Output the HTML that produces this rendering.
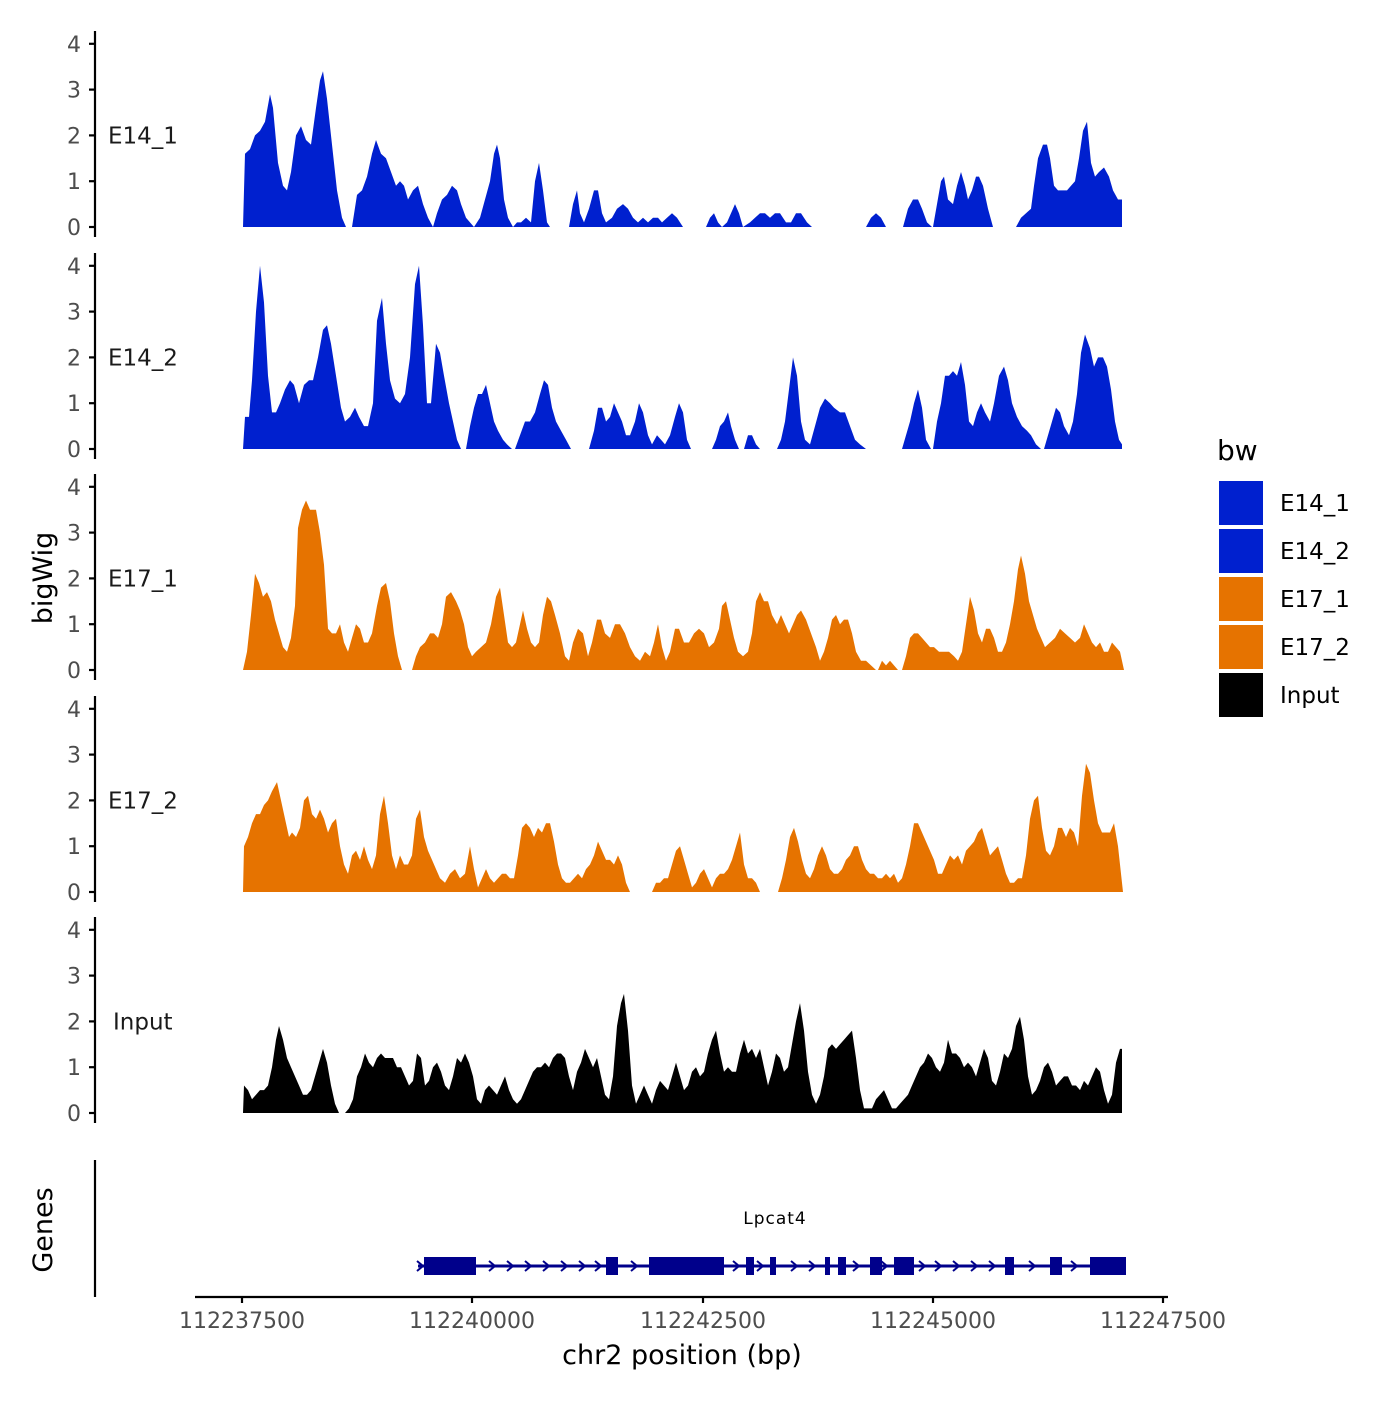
<!DOCTYPE html>
<html><head><meta charset="utf-8"><style>
html,body{margin:0;padding:0;background:#fff;}
svg text{font-family:"DejaVu Sans","Liberation Sans",sans-serif;}
</style></head><body>
<svg id="s" width="1400" height="1400" xmlns="http://www.w3.org/2000/svg">
<rect width="1400" height="1400" fill="#fff"/>
<g id="tracks"></g>
<g id="axes" stroke="#000" stroke-width="2.2" fill="none"></g>
<g id="lab" font-size="22" fill="#4d4d4d"></g>
<text x="52" y="578" font-size="27" text-anchor="middle" transform="rotate(-90 52 578)" fill="#000">bigWig</text>
<text x="52" y="1230" font-size="27" text-anchor="middle" transform="rotate(-90 52 1230)" fill="#000">Genes</text>
<text x="682" y="1364" font-size="27" text-anchor="middle" fill="#000">chr2 position (bp)</text>
<!-- legend -->
<text x="1217" y="460" font-size="28" fill="#000">bw</text>
<rect x="1219" y="481" width="44" height="44" fill="#0020cf"/>
<rect x="1219" y="529" width="44" height="44" fill="#0020cf"/>
<rect x="1219" y="577" width="44" height="44" fill="#e67300"/>
<rect x="1219" y="625" width="44" height="44" fill="#e67300"/>
<rect x="1219" y="673" width="44" height="44" fill="#000"/>
<g font-size="23" fill="#000">
<text x="1280" y="511">E14_1</text><text x="1280" y="559">E14_2</text>
<text x="1280" y="607">E17_1</text><text x="1280" y="655">E17_2</text>
<text x="1280" y="703">Input</text></g>
<!-- genes -->
<text x="775" y="1224" font-size="17" letter-spacing="1" text-anchor="middle" fill="#000">Lpcat4</text>
<line x1="418" y1="1266" x2="1126" y2="1266" stroke="#00008b" stroke-width="3"/>
<g id="gene" fill="#00008b"></g>
</svg>
<script>
var P=[
[227,"#0020cf",[243,0,245,1.6,250,1.7,255,2.0,260,2.1,265,2.3,270,2.9,273,2.6,278,1.4,283,0.9,287,0.8,291,1.2,296,2.0,301,2.2,306,1.9,311,1.8,316,2.6,320,3.2,323,3.4,327,2.8,332,1.8,337,0.8,342,0.2,346,0,352,0,357,0.7,362,0.8,367,1.1,372,1.6,376,1.9,381,1.6,386,1.5,391,1.2,396,0.9,400,1.0,404,0.9,408,0.6,413,0.8,418,0.9,423,0.5,428,0.2,433,0,437,0.3,442,0.6,447,0.7,452,0.9,457,0.8,461,0.5,466,0.2,470,0.1,474,0,480,0.2,485,0.6,490,1.0,494,1.6,497,1.8,500,1.5,504,0.6,508,0.2,513,0,517,0.1,521,0.1,526,0.2,531,0.1,535,1.0,539,1.4,543,0.8,547,0.1,550,0,569,0,573,0.5,577,0.8,580,0.3,584,0.1,589,0.4,594,0.8,598,0.8,602,0.3,606,0.1,612,0.2,617,0.4,623,0.5,628,0.4,633,0.2,638,0.1,643,0.2,648,0.1,653,0.2,658,0.2,662,0.1,667,0.2,672,0.3,677,0.2,683,0,706,0,710,0.2,714,0.3,718,0.1,722,0,727,0.1,731,0.3,735,0.5,739,0.3,743,0,750,0.1,755,0.2,760,0.3,765,0.3,770,0.2,775,0.3,780,0.3,786,0.1,791,0.1,796,0.3,801,0.3,807,0.1,812,0,866,0,871,0.2,876,0.3,881,0.2,886,0,903,0,908,0.4,913,0.6,918,0.6,922,0.4,927,0.1,932,0,933,0,937,0.5,941,1.0,944,1.1,948,0.6,953,0.5,957,0.9,961,1.2,965,0.9,968,0.6,972,0.8,976,1.1,979,1.1,983,0.9,988,0.4,993,0,1016,0,1021,0.2,1026,0.3,1031,0.4,1034,0.9,1038,1.5,1043,1.8,1047,1.8,1050,1.5,1054,0.9,1058,0.8,1062,0.8,1067,0.8,1071,0.9,1075,1.0,1079,1.5,1083,2.1,1087,2.3,1091,1.4,1095,1.1,1099,1.2,1104,1.3,1109,1.1,1113,0.8,1118,0.6,1122,0.6,1122,0],"E14_1",108],
[449,"#0020cf",[243,0,245,0.7,249,0.7,252,1.5,256,3.0,260,4.0,264,3.2,268,1.6,272,0.8,276,0.8,280,1.0,285,1.3,290,1.5,294,1.4,299,1.0,304,1.4,309,1.5,313,1.5,318,2.0,323,2.6,327,2.7,331,2.3,336,1.6,341,0.9,345,0.6,350,0.7,355,0.9,359,0.7,364,0.5,368,0.5,373,1.0,377,2.8,382,3.3,386,2.3,390,1.5,395,1.1,400,1.0,405,1.2,410,2.0,415,3.6,419,4.0,423,2.7,427,1.0,431,1.0,436,2.3,440,2.1,444,1.6,449,1.0,453,0.6,457,0.2,461,0,466,0,470,0.5,474,0.9,478,1.2,482,1.2,486,1.4,490,1.0,494,0.6,498,0.4,503,0.2,507,0.1,512,0,515,0,520,0.3,525,0.6,530,0.6,535,0.8,540,1.2,544,1.5,548,1.4,552,0.9,556,0.6,561,0.4,566,0.2,571,0,589,0,594,0.4,598,0.9,602,0.9,606,0.6,610,0.7,614,1.0,618,0.8,622,0.6,626,0.3,630,0.3,635,0.6,639,1.0,643,0.8,648,0.3,652,0.1,657,0.3,661,0.2,665,0.1,670,0.3,675,0.7,679,1.0,683,0.8,687,0.2,691,0,712,0,716,0.2,720,0.5,724,0.6,728,0.8,731,0.5,735,0.2,739,0,744,0,748,0.3,752,0.3,756,0.1,760,0,777,0,781,0.2,785,0.6,789,1.3,793,2.0,797,1.6,801,0.6,805,0.2,810,0.1,815,0.5,820,0.9,825,1.1,830,1.0,834,0.9,840,0.8,845,0.8,850,0.5,855,0.2,860,0.1,866,0,902,0,906,0.3,910,0.6,914,1.0,918,1.3,922,0.9,926,0.2,931,0,933,0,937,0.6,941,1.0,945,1.6,949,1.6,953,1.7,957,1.6,961,1.9,965,1.4,969,0.6,973,0.5,977,0.8,981,1.0,985,0.8,990,0.6,994,1.0,999,1.6,1004,1.8,1008,1.5,1012,1.0,1017,0.7,1022,0.5,1027,0.4,1031,0.3,1036,0.1,1041,0,1044,0,1048,0.3,1052,0.6,1056,0.9,1060,0.8,1064,0.5,1069,0.3,1073,0.6,1077,1.2,1081,2.1,1085,2.5,1090,2.2,1094,1.8,1098,2.0,1103,2.0,1107,1.8,1111,1.3,1115,0.6,1119,0.2,1122,0.1,1122,0],"E14_2",108],
[670,"#e67300",[243,0,247,0.4,251,1.2,255,2.1,259,1.9,263,1.6,267,1.7,271,1.5,275,1.1,279,0.8,283,0.5,287,0.4,291,0.7,295,1.4,298,3.1,302,3.5,306,3.7,310,3.5,316,3.5,320,3.0,324,2.3,328,0.9,332,0.8,336,0.8,340,1.0,344,0.6,348,0.4,352,0.7,356,1.0,360,0.9,364,0.6,368,0.6,372,0.8,377,1.4,381,1.8,386,1.9,390,1.5,394,0.8,398,0.3,402,0,412,0,416,0.3,420,0.5,425,0.6,430,0.8,434,0.8,438,0.7,442,1.0,446,1.6,451,1.7,456,1.5,460,1.3,464,1.0,468,0.5,472,0.3,476,0.4,481,0.5,486,0.6,491,1.0,496,1.6,500,1.8,504,1.2,508,0.6,512,0.5,516,0.6,520,1.0,523,1.3,527,0.9,531,0.6,535,0.5,539,0.6,543,1.2,547,1.6,551,1.5,555,1.2,560,0.8,565,0.3,569,0.2,573,0.6,578,0.9,583,0.8,588,0.3,592,0.6,597,1.1,601,1.1,605,0.8,610,0.7,615,1.0,620,1.0,625,0.8,630,0.5,635,0.3,640,0.2,645,0.4,650,0.3,654,0.6,658,1.0,662,0.5,666,0.2,670,0.4,675,0.9,679,0.9,684,0.6,689,0.6,694,0.8,699,0.9,704,0.8,709,0.5,714,0.6,719,0.9,722,1.4,726,1.5,730,1.1,734,0.7,738,0.4,743,0.3,748,0.4,752,0.8,756,1.5,760,1.7,764,1.5,768,1.5,772,1.2,777,1.0,781,1.2,785,1.0,789,0.8,793,1.0,797,1.2,801,1.3,806,1.1,811,0.8,816,0.5,820,0.2,824,0.4,828,0.7,832,1.1,836,1.2,840,1.0,844,1.1,848,1.1,852,0.8,856,0.4,861,0.2,866,0.2,871,0.1,876,0,878,0,882,0.2,886,0.1,890,0.2,894,0.1,898,0,902,0,906,0.3,910,0.7,914,0.8,918,0.8,922,0.7,926,0.6,930,0.5,934,0.5,939,0.4,944,0.4,949,0.4,954,0.3,958,0.2,962,0.4,966,1.0,970,1.6,974,1.3,978,0.8,982,0.6,986,0.9,990,0.9,994,0.7,998,0.4,1002,0.4,1006,0.6,1010,1.0,1014,1.5,1018,2.2,1021,2.5,1025,2.1,1029,1.5,1033,1.2,1037,0.9,1041,0.7,1045,0.5,1050,0.6,1055,0.7,1060,0.9,1065,0.8,1070,0.7,1075,0.6,1080,0.7,1084,1.0,1088,0.8,1092,0.6,1096,0.5,1100,0.6,1104,0.4,1108,0.4,1112,0.6,1116,0.5,1120,0.4,1124,0],"E17_1",108],
[892,"#e67300",[243,0,244,1.0,248,1.2,252,1.5,256,1.7,260,1.7,264,1.9,268,2.0,272,2.2,277,2.4,281,2.0,285,1.6,289,1.2,292,1.3,296,1.2,300,1.4,304,2.0,308,2.1,312,1.7,316,1.6,320,1.8,324,1.6,328,1.3,332,1.5,336,1.6,340,1.0,344,0.6,348,0.4,352,0.8,356,0.9,360,0.7,364,1.0,368,0.7,372,0.5,376,0.8,380,1.7,384,2.1,388,1.5,392,0.8,396,0.5,400,0.8,404,0.6,408,0.6,412,0.8,416,1.6,420,1.8,424,1.2,428,0.9,432,0.7,436,0.5,440,0.3,445,0.2,450,0.4,455,0.5,460,0.3,465,0.4,470,1.0,474,0.5,478,0.1,482,0.3,486,0.5,490,0.3,494,0.2,498,0.3,502,0.4,506,0.4,510,0.3,514,0.3,518,0.8,522,1.4,526,1.5,530,1.4,534,1.2,538,1.4,542,1.3,546,1.5,550,1.5,554,1.1,558,0.6,562,0.3,566,0.2,570,0.2,574,0.3,578,0.4,582,0.3,586,0.5,590,0.6,594,0.8,598,1.1,602,0.9,606,0.7,610,0.7,614,0.6,618,0.8,622,0.6,626,0.2,630,0,652,0,656,0.2,660,0.2,664,0.3,668,0.3,672,0.6,676,0.9,680,1.0,684,0.7,688,0.4,692,0.1,696,0.2,700,0.4,704,0.5,708,0.3,712,0.1,716,0.3,720,0.4,724,0.4,728,0.5,732,0.7,736,1.0,740,1.3,744,0.6,748,0.3,752,0.3,756,0.2,760,0,778,0,782,0.3,786,0.7,790,1.2,794,1.4,798,1.1,802,0.7,806,0.4,810,0.3,814,0.5,818,0.8,822,1.0,826,0.8,830,0.5,834,0.4,838,0.4,842,0.5,846,0.7,850,0.8,854,1.0,858,1.0,862,0.7,866,0.5,870,0.4,874,0.4,878,0.3,882,0.3,886,0.4,890,0.3,894,0.4,898,0.2,902,0.3,906,0.6,910,1.0,914,1.5,918,1.5,922,1.3,926,1.1,930,0.9,934,0.7,938,0.4,942,0.4,946,0.6,950,0.8,954,0.7,958,0.8,962,0.6,966,0.9,970,1.0,974,1.1,978,1.3,982,1.4,986,1.1,990,0.8,994,0.9,998,1.0,1002,0.7,1006,0.4,1010,0.2,1014,0.2,1018,0.3,1022,0.3,1026,0.8,1030,1.6,1034,2.0,1038,2.1,1042,1.4,1046,0.9,1050,0.8,1054,1.0,1058,1.4,1062,1.4,1066,1.2,1070,1.4,1074,1.3,1078,1.0,1082,2.1,1086,2.8,1090,2.6,1094,2.0,1098,1.5,1102,1.3,1106,1.3,1110,1.3,1114,1.5,1118,1.0,1123,0],"E17_2",108],
[1113,"#000",[243,0,244,0.6,248,0.5,252,0.3,256,0.4,260,0.5,264,0.5,268,0.6,272,1.0,276,1.6,279,1.9,283,1.6,287,1.2,291,1.0,295,0.8,299,0.6,303,0.4,307,0.4,311,0.5,315,0.8,319,1.1,323,1.4,327,1.1,331,0.6,335,0.2,339,0,345,0,349,0.1,353,0.3,357,0.8,361,1.0,365,1.3,369,1.1,373,1.0,377,1.2,381,1.3,385,1.2,389,1.2,393,1.2,397,1.0,401,1.0,405,0.8,409,0.6,413,0.7,417,1.3,421,1.2,425,0.6,429,0.7,433,1.0,437,1.1,441,0.9,445,0.6,449,0.5,453,0.8,457,1.2,461,1.1,465,1.3,469,1.1,473,0.8,477,0.3,481,0.2,485,0.5,489,0.6,493,0.5,497,0.4,501,0.6,505,0.8,509,0.5,513,0.3,517,0.2,521,0.3,525,0.5,529,0.7,533,0.9,537,1.0,541,1.0,545,1.1,549,1.0,553,1.2,557,1.3,561,1.3,565,1.2,569,0.8,573,0.5,577,0.9,581,1.1,585,1.4,589,1.2,593,1.0,597,1.2,601,0.8,605,0.4,609,0.3,613,0.8,617,1.9,621,2.4,624,2.6,628,1.8,632,0.6,636,0.2,640,0.4,644,0.6,648,0.4,652,0.2,656,0.5,660,0.7,664,0.6,668,0.5,672,0.8,676,1.1,680,0.8,684,0.5,688,0.6,692,0.9,696,1.0,700,0.8,704,0.9,708,1.3,712,1.6,716,1.8,720,1.3,724,0.9,728,1.0,732,0.9,736,0.9,740,1.3,744,1.6,748,1.3,752,1.4,756,1.2,760,1.4,764,1.0,768,0.6,772,0.9,776,1.3,780,1.2,784,0.9,788,1.0,792,1.5,796,2.0,800,2.4,804,1.8,808,0.9,812,0.4,816,0.2,820,0.4,824,0.8,828,1.4,832,1.5,836,1.4,840,1.5,844,1.6,848,1.7,852,1.8,856,1.2,860,0.5,864,0.1,868,0.1,872,0.1,876,0.3,880,0.4,884,0.5,888,0.3,892,0.1,896,0.1,900,0.2,904,0.3,908,0.4,912,0.6,916,0.8,920,1.0,924,1.1,928,1.3,932,1.2,936,1.0,940,0.9,944,1.1,948,1.6,952,1.3,956,1.3,960,1.2,964,1.0,968,1.1,972,1.0,976,0.8,980,1.1,984,1.4,988,1.2,992,0.7,996,0.6,1000,0.9,1004,1.3,1008,1.2,1012,1.4,1016,1.9,1020,2.1,1024,1.6,1028,0.8,1032,0.4,1036,0.5,1040,0.7,1044,1.0,1048,1.1,1052,0.9,1056,0.6,1060,0.7,1064,0.8,1068,0.8,1072,0.6,1076,0.6,1080,0.5,1084,0.7,1088,0.6,1092,0.8,1096,1.0,1100,0.9,1104,0.5,1108,0.2,1112,0.4,1116,1.1,1120,1.4,1122,1.4,1122,0],"Input",113]
];
var NS="http://www.w3.org/2000/svg",K=45.8;
function el(t,a,p,txt){var e=document.createElementNS(NS,t);for(var k in a)e.setAttribute(k,a[k]);if(txt)e.textContent=txt;p.appendChild(e);return e;}
var tr=document.getElementById("tracks"),ax=document.getElementById("axes"),lb=document.getElementById("lab");
P.forEach(function(p){var b=p[0],d=p[2],s="M"+d[0]+","+b;
for(var i=0;i<d.length;i+=2)s+=" L"+d[i]+","+(b-d[i+1]*K).toFixed(1);
s+=" L"+d[d.length-2]+","+b+" Z";
el("path",{d:s,fill:p[1]},tr);
el("line",{x1:95,y1:b-196,x2:95,y2:b+10},ax);
for(var v=0;v<=4;v++){var y=b-v*K;el("line",{x1:89,y1:y,x2:95,y2:y},ax);
el("text",{x:81,y:y+8,"text-anchor":"end"},lb,""+v);}
el("text",{x:p[4],y:b-2*K+8,"font-size":"23",fill:"#1a1a1a"},lb,p[3]);
});
el("line",{x1:95,y1:1160,x2:95,y2:1297},ax);
el("line",{x1:195,y1:1297,x2:1168,y2:1297},ax);
var tk=[[242,"112237500"],[472,"112240000"],[703,"112242500"],[933,"112245000"],[1163,"112247500"]];
tk.forEach(function(t){el("line",{x1:t[0],y1:1297,x2:t[0],y2:1303},ax);
el("text",{x:t[0],y:1328,"text-anchor":"middle"},lb,t[1]);});
var g=document.getElementById("gene");
[[424,476],[606,618],[649,724],[746,754],[770,776],[825,830],[838,846],[870,882],[894,914],[1005,1014],[1050,1062],[1090,1126]].forEach(function(r){
el("rect",{x:r[0],y:1257,width:r[1]-r[0],height:18},g);});
[420,492,510,528,546,564,582,598,634,736,760,794,812,856,884,922,938,956,974,992,1032,1074].forEach(function(x){
el("path",{d:"M"+(x-3)+",1261 L"+(x+3)+",1266 L"+(x-3)+",1271",stroke:"#00008b","stroke-width":"2",fill:"none"},g);});
</script>
</body></html>
